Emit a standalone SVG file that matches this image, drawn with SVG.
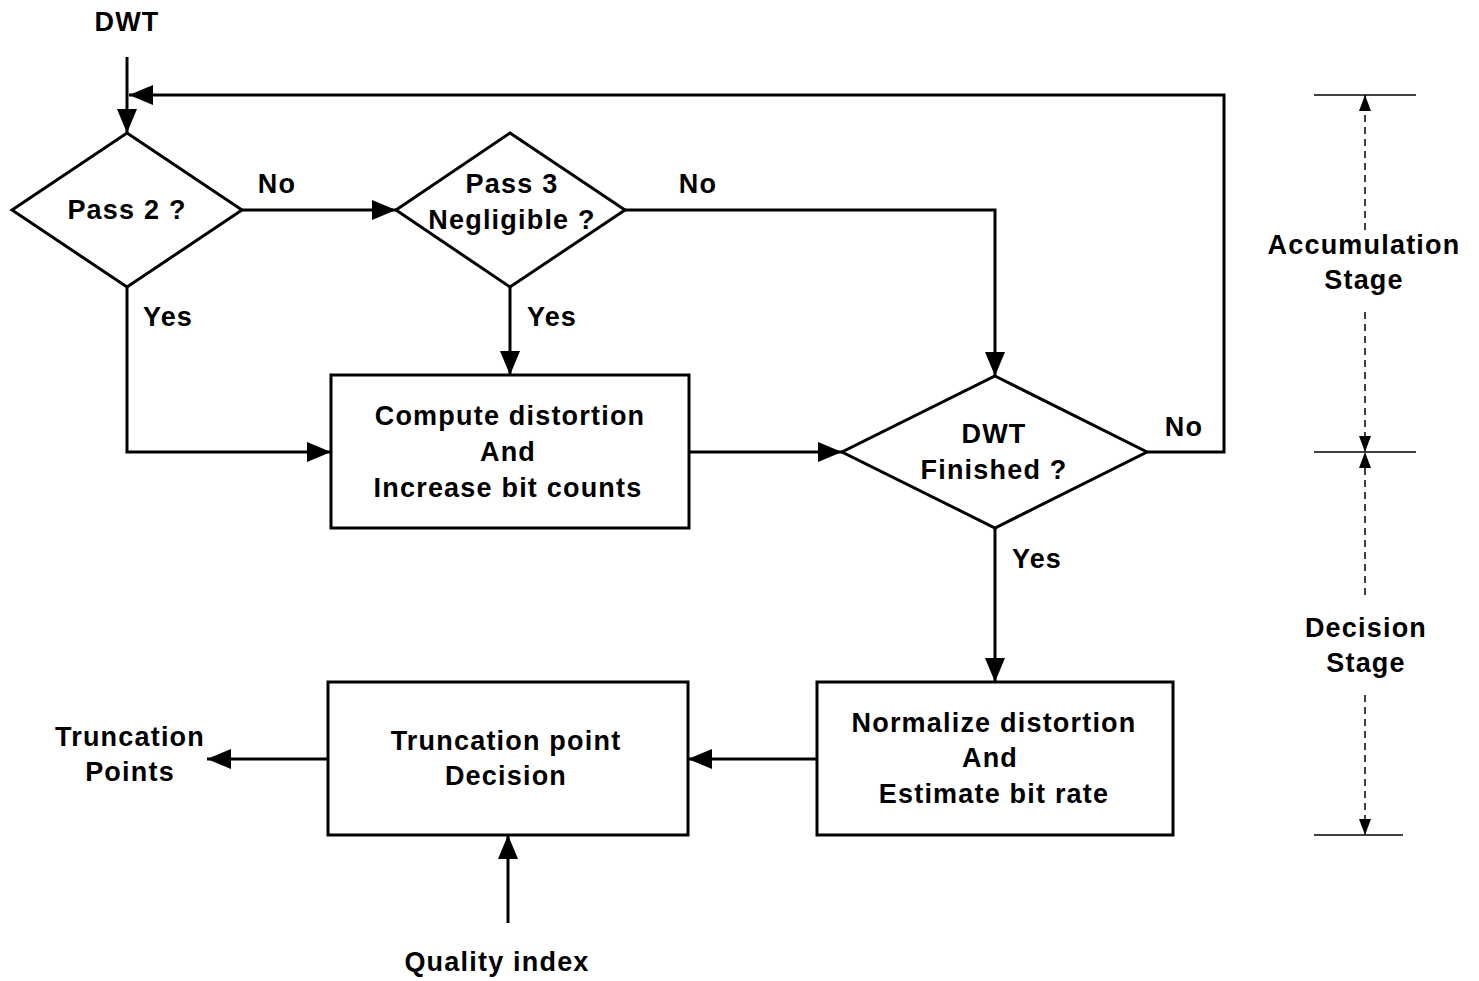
<svg xmlns="http://www.w3.org/2000/svg" width="1479" height="981" viewBox="0 0 1479 981">
<defs>
<style>
text{font-family:"Liberation Sans",Arial,sans-serif;font-weight:bold;font-size:27px;letter-spacing:1.2px;fill:#000;text-anchor:middle}
.shape{fill:#fff;stroke:#000;stroke-width:3}
.conn{fill:none;stroke:#000;stroke-width:3}
.dim{fill:none;stroke:#000;stroke-width:1.5}
.dash{fill:none;stroke:#000;stroke-width:1.5;stroke-dasharray:7,5}
</style>
<marker id="ah" viewBox="0 0 24 20" refX="24" refY="10" markerWidth="24" markerHeight="20" markerUnits="userSpaceOnUse" orient="auto">
<path d="M0,0 L24,10 L0,20 Z" fill="#000"/>
</marker>
<marker id="sh" viewBox="0 0 16 12" refX="16" refY="6" markerWidth="16" markerHeight="12" markerUnits="userSpaceOnUse" orient="auto">
<path d="M0,0 L16,6 L0,12 Z" fill="#000"/>
</marker>
</defs>
<rect width="1479" height="981" fill="#fff"/>

<g id="connectors">
<path class="conn" d="M127,57 L127,133" marker-end="url(#ah)"/>
<path class="conn" d="M1147,452 L1224,452 L1224,95 L129,95" marker-end="url(#ah)"/>
<path class="conn" d="M242,210 L396,210" marker-end="url(#ah)"/>
<path class="conn" d="M625,210 L995,210 L995,376" marker-end="url(#ah)"/>
<path class="conn" d="M510,287 L510,375" marker-end="url(#ah)"/>
<path class="conn" d="M127,287 L127,452 L331,452" marker-end="url(#ah)"/>
<path class="conn" d="M689,452 L842,452" marker-end="url(#ah)"/>
<path class="conn" d="M995,528 L995,682" marker-end="url(#ah)"/>
<path class="conn" d="M817,759 L688,759" marker-end="url(#ah)"/>
<path class="conn" d="M328,759 L207,759" marker-end="url(#ah)"/>
<path class="conn" d="M508,923 L508,835" marker-end="url(#ah)"/>
</g>

<g id="labels">
<text x="127" y="31">DWT</text>
<text x="277" y="193">No</text>
<text x="698" y="193">No</text>
<text x="168" y="326">Yes</text>
<text x="552" y="326">Yes</text>
<text x="1184" y="436">No</text>
<text x="1037" y="568">Yes</text>
<text x="130" y="746">Truncation</text>
<text x="130" y="781">Points</text>
<text x="497" y="971">Quality index</text>
</g>

<g id="pass2">
<polygon class="shape" points="127,133 242,210 127,287 12,210"/>
<text x="127" y="219">Pass 2 ?</text>
</g>
<g id="pass3">
<polygon class="shape" points="510,133 625,210 510,287 396,210"/>
<text x="512" y="193">Pass 3</text>
<text x="512" y="229">Negligible ?</text>
</g>
<g id="compute">
<rect class="shape" x="331" y="375" width="358" height="153"/>
<text x="510" y="425">Compute distortion</text>
<text x="508" y="461">And</text>
<text x="508" y="497">Increase bit counts</text>
</g>
<g id="dwtfinished">
<polygon class="shape" points="995,376 1147,452 995,528 842,452"/>
<text x="994" y="443">DWT</text>
<text x="994" y="479">Finished ?</text>
</g>
<g id="normalize">
<rect class="shape" x="817" y="682" width="356" height="153"/>
<text x="994" y="732">Normalize distortion</text>
<text x="990" y="767">And</text>
<text x="994" y="803">Estimate bit rate</text>
</g>
<g id="truncation">
<rect class="shape" x="328" y="682" width="360" height="153"/>
<text x="506" y="750">Truncation point</text>
<text x="506" y="785">Decision</text>
</g>

<g id="stages">
<line class="dim" x1="1314" y1="95" x2="1416" y2="95"/>
<line class="dim" x1="1314" y1="452" x2="1416" y2="452"/>
<line class="dim" x1="1314" y1="835" x2="1403" y2="835"/>
<path class="dash" d="M1365,230 L1365,95" marker-end="url(#sh)"/>
<path class="dash" d="M1365,312 L1365,452" marker-end="url(#sh)"/>
<path class="dash" d="M1365,595 L1365,452" marker-end="url(#sh)"/>
<path class="dash" d="M1365,695 L1365,835" marker-end="url(#sh)"/>
<text x="1364" y="254">Accumulation</text>
<text x="1364" y="289">Stage</text>
<text x="1366" y="637">Decision</text>
<text x="1366" y="672">Stage</text>
</g>
</svg>
